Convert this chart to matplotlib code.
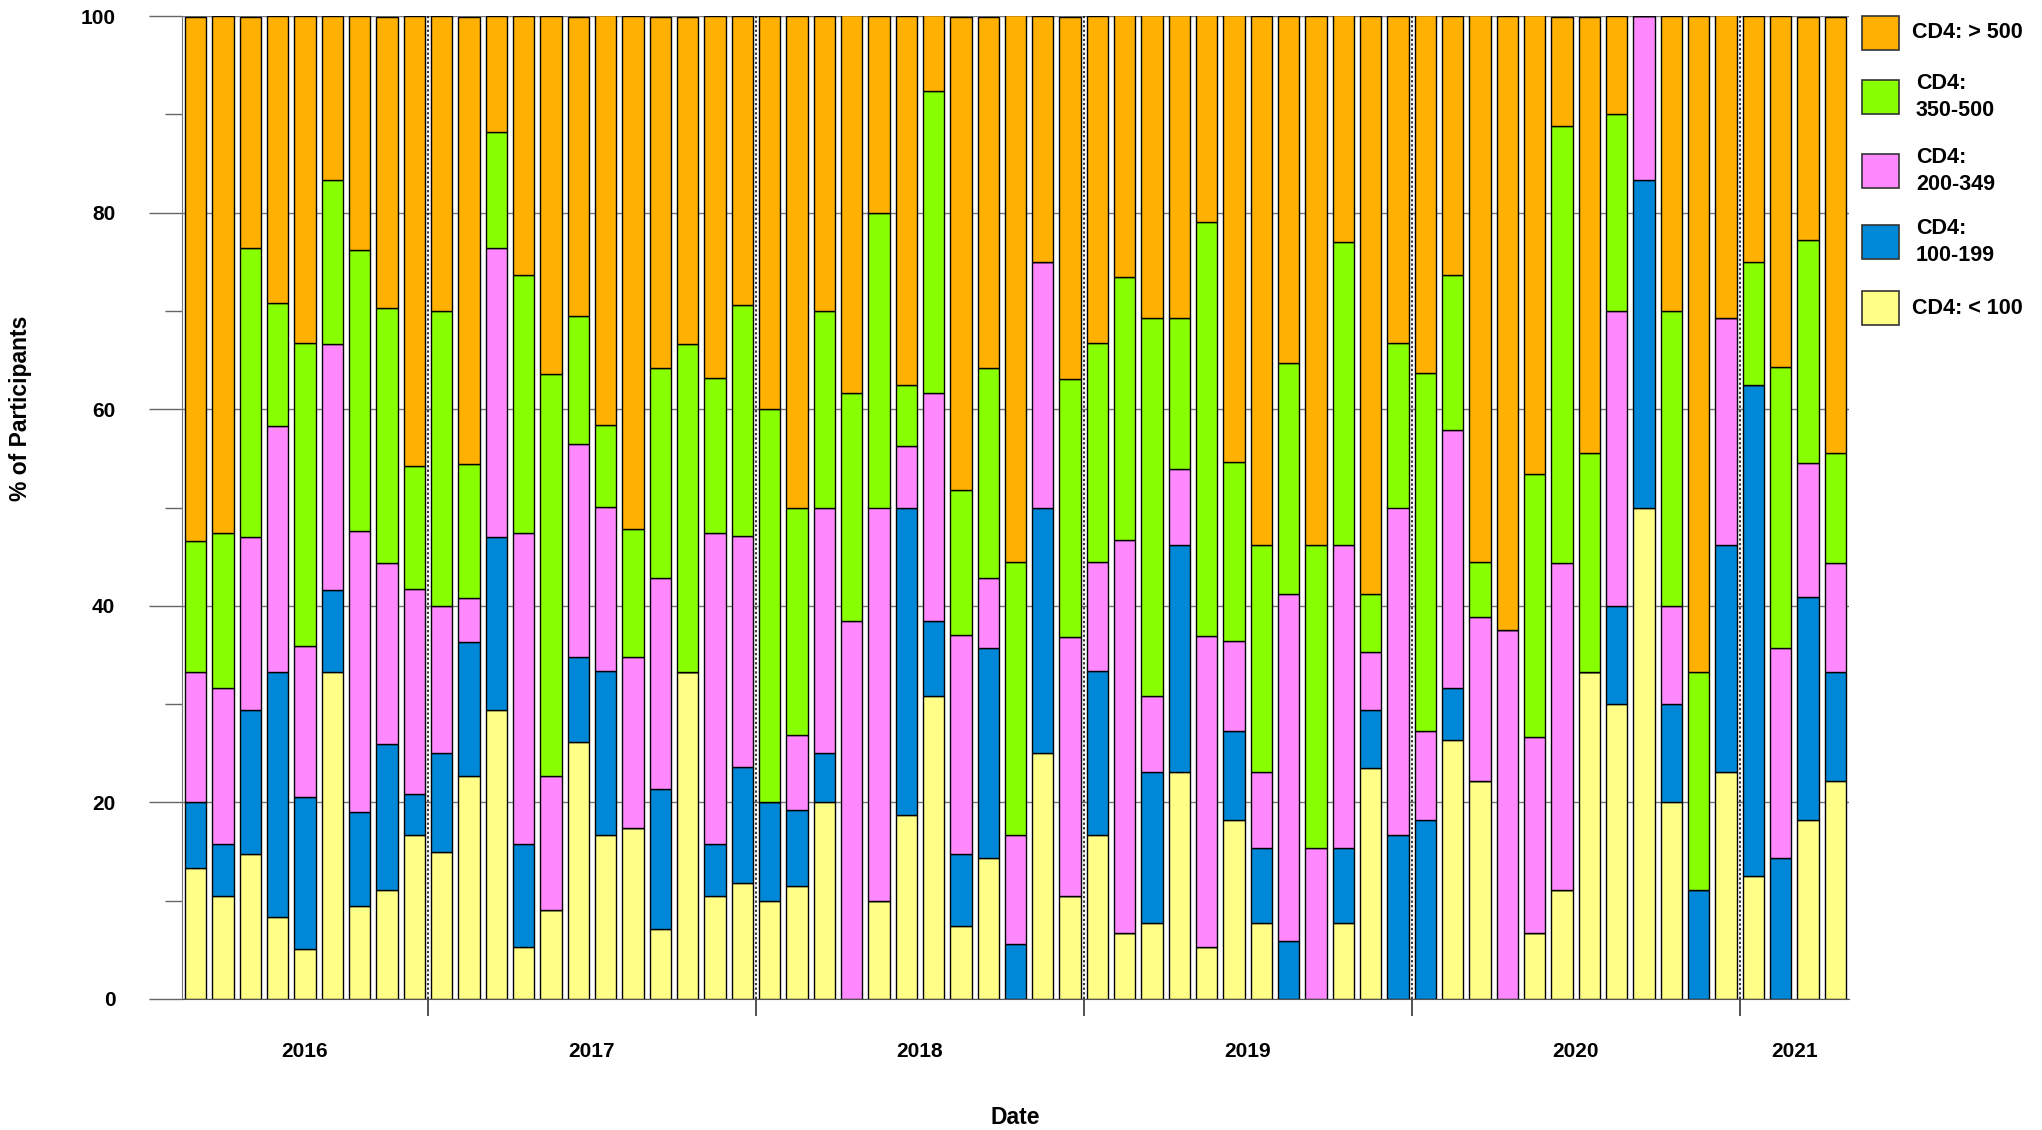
import matplotlib
matplotlib.use("Agg")
import matplotlib.pyplot as plt
import numpy as np
from matplotlib.patches import Rectangle

plt.rcParams['font.family'] = ['Liberation Sans', 'DejaVu Sans']
plt.rcParams['font.weight'] = 'bold'

# Monthly bars: Apr 2016 .. Apr 2021 (61 months), % of participants
cd4_lt100 = [13.3, 10.5, 14.7, 8.3, 5.1, 33.3, 9.5, 11.1, 16.7,
             15.0, 22.7, 29.4, 5.3, 9.1, 26.1, 16.7, 17.4, 7.1, 33.3, 10.5, 11.8,
             10.0, 11.5, 20.0, 0.0, 10.0, 18.75, 30.8, 7.4, 14.3, 0.0, 25.0, 10.5,
             16.7, 6.7, 7.7, 23.1, 5.3, 18.2, 7.7, 0.0, 0.0, 7.7, 23.5, 0.0,
             0.0, 26.3, 22.2, 0.0, 6.7, 11.1, 33.3, 30.0, 50.0, 20.0, 0.0, 23.1,
             12.5, 0.0, 18.2, 22.2]
cd4_100_199 = [6.7, 5.3, 14.7, 25.0, 15.4, 8.3, 9.5, 14.8, 4.2,
               10.0, 13.6, 17.6, 10.5, 0.0, 8.7, 16.7, 0.0, 14.3, 0.0, 5.3, 11.8,
               10.0, 7.7, 5.0, 0.0, 0.0, 31.25, 7.7, 7.4, 21.4, 5.6, 25.0, 0.0,
               16.7, 0.0, 15.4, 23.1, 0.0, 9.1, 7.7, 5.9, 0.0, 7.7, 5.9, 16.7,
               18.2, 5.3, 0.0, 0.0, 0.0, 0.0, 0.0, 10.0, 33.3, 10.0, 11.1, 23.1,
               50.0, 14.3, 22.7, 11.1]
cd4_200_349 = [13.3, 15.8, 17.6, 25.0, 15.4, 25.0, 28.6, 18.5, 20.8,
               15.0, 4.5, 29.4, 31.6, 13.6, 21.7, 16.7, 17.4, 21.4, 0.0, 31.6, 23.5,
               0.0, 7.7, 25.0, 38.5, 40.0, 6.25, 23.1, 22.2, 7.1, 11.1, 25.0, 26.3,
               11.1, 40.0, 7.7, 7.7, 31.6, 9.1, 7.7, 35.3, 15.4, 30.8, 5.9, 33.3,
               9.1, 26.3, 16.7, 37.5, 20.0, 33.3, 0.0, 30.0, 16.7, 10.0, 0.0, 23.1,
               0.0, 21.4, 13.6, 11.1]
cd4_350_500 = [13.3, 15.8, 29.4, 12.5, 30.8, 16.7, 28.6, 25.9, 12.5,
               30.0, 13.6, 11.8, 26.3, 40.9, 13.0, 8.3, 13.0, 21.4, 33.3, 15.8, 23.5,
               40.0, 23.1, 20.0, 23.1, 30.0, 6.25, 30.8, 14.8, 21.4, 27.8, 0.0, 26.3,
               22.2, 26.7, 38.5, 15.4, 42.1, 18.2, 23.1, 23.5, 30.8, 30.8, 5.9, 16.7,
               36.4, 15.8, 5.6, 0.0, 26.7, 44.4, 22.2, 20.0, 0.0, 30.0, 22.2, 0.0,
               12.5, 28.6, 22.7, 11.1]
cd4_gt500 = [53.3, 52.6, 23.5, 29.2, 33.3, 16.7, 23.8, 29.6, 45.8,
             30.0, 45.5, 11.8, 26.3, 36.4, 30.4, 41.7, 52.2, 35.7, 33.3, 36.8, 29.4,
             40.0, 50.0, 30.0, 38.5, 20.0, 37.5, 7.7, 48.1, 35.7, 55.6, 25.0, 36.8,
             33.3, 26.7, 30.8, 30.8, 21.1, 45.5, 53.8, 35.3, 53.8, 23.1, 58.8, 33.3,
             36.4, 26.3, 55.6, 62.5, 46.7, 11.1, 44.4, 10.0, 0.0, 30.0, 66.7, 30.8,
             25.0, 35.7, 22.7, 44.4]

years = ['2016', '2017', '2018', '2019', '2020', '2021']
months_per_year = [9, 12, 12, 12, 12, 4]

series = [cd4_lt100, cd4_100_199, cd4_200_349, cd4_350_500, cd4_gt500]
labels = ['CD4: < 100', 'CD4:\n100-199', 'CD4:\n200-349', 'CD4:\n350-500', 'CD4: > 500']
colors = ['#FFFF88', '#0088D8', '#FF88FF', '#88FF00', '#FFB000']

W, H = 2042, 1130
fig = plt.figure(figsize=(W / 100, H / 100), dpi=100)
ax_l, ax_r, ax_b, ax_t = 182, 1849, 999, 16   # pixel box of the plot area
ax = fig.add_axes([ax_l / W, 1 - ax_b / H, (ax_r - ax_l) / W, (ax_b - ax_t) / H])

n = len(cd4_lt100)
x = np.arange(n)
bottom = np.zeros(n)
for vals, col in zip(series, colors):
    v = np.array(vals)
    ax.bar(x, v, width=0.78, bottom=bottom, color=col, edgecolor='black',
           linewidth=1.0, zorder=3)
    bottom += v

ax.set_xlim(-0.5, n - 0.5)
ax.set_ylim(0, 100)

# y axis
ax.set_yticks([0, 20, 40, 60, 80, 100])
ax.set_yticks([10, 30, 50, 70, 90], minor=True)
ax.tick_params(axis='y', which='major', length=24, width=1, color='#666666',
               pad=24, labelsize=15)
ax.tick_params(axis='y', which='minor', length=12, width=1, color='#666666')
for t in ax.get_yticklabels():
    t.set_fontweight('bold')
ax.yaxis.grid(True, which='major', color='#777777', linewidth=1, zorder=0)

# x axis: year boundaries and labels
cum = np.cumsum(months_per_year)
boundaries = cum[:-1] - 0.5
starts = np.concatenate([[0], cum[:-1]])
centers = starts + (np.array(months_per_year) - 1) / 2.0
ax.set_xticks(boundaries)
ax.set_xticklabels([''] * len(boundaries))
ax.set_xticks(centers, minor=True)
ax.set_xticklabels(years, minor=True, fontsize=15, fontweight='bold')
ax.tick_params(axis='x', which='major', length=12, width=1.2, color='#333333')
ax.tick_params(axis='x', which='minor', length=0, pad=31)
for b in boundaries:
    ax.axvline(b, color='black', linestyle=(0, (1.5, 1.5)), linewidth=1.1, zorder=2)

for s in ['top', 'right']:
    ax.spines[s].set_visible(False)
ax.spines['left'].set_color('#777777')
ax.spines['bottom'].set_color('#555555')
ax.spines['bottom'].set_zorder(4)

fig.text(20 / W, 1 - 408 / H, '% of Participants', rotation=90, ha='center',
         va='center', fontsize=16.5, fontweight='bold')
fig.text(1015 / W, 1 - 1117 / H, 'Date', ha='center', va='center',
         fontsize=16.5, fontweight='bold')

# legend (top to bottom: > 500 ... < 100)
leg_centers = [33, 97, 171, 242, 308]
for i, yc in enumerate(leg_centers):
    k = len(series) - 1 - i
    bx0, bw, bh = 1862 / W, 37 / W, 34 / H
    by = 1 - yc / H
    fig.patches.append(Rectangle((bx0, by - bh / 2), bw, bh, transform=fig.transFigure,
                                 facecolor=colors[k], edgecolor='#333333', linewidth=1.2))
    tx = 1912 / W if '\n' not in labels[k] else 1916 / W
    fig.text(tx, by, labels[k], ha='left', va='center', fontsize=15.5,
             fontweight='bold', linespacing=1.4)

fig.savefig('out.png', dpi=100)
